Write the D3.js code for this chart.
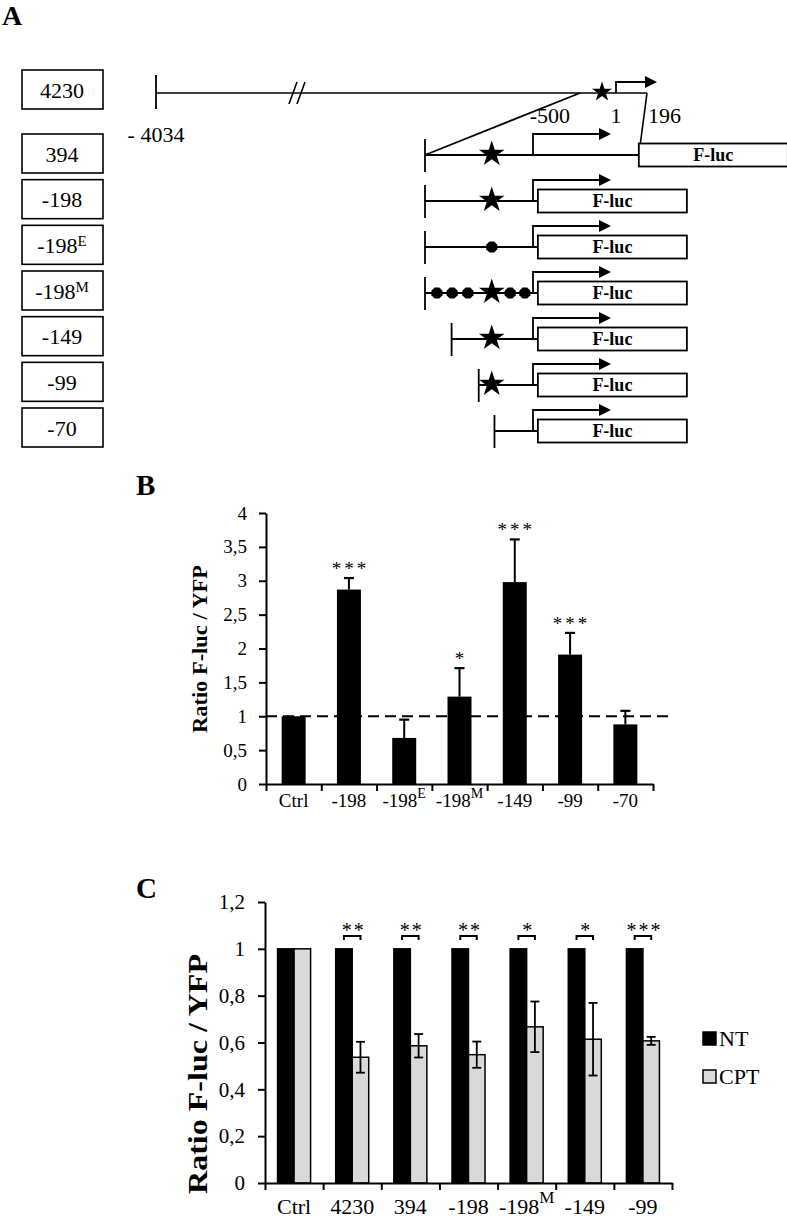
<!DOCTYPE html>
<html><head><meta charset="utf-8">
<script src="https://cdn.jsdelivr.net/npm/d3@7"></script>
<style>
body{margin:0;background:#fff}
svg{display:block}
text{font-family:"Liberation Serif","Times New Roman",Times,"Nimbus Roman","Tinos","DejaVu Serif",serif;fill:#000}
</style>
</head><body>
<svg id="fig" width="787" height="1218"></svg>
<script>
// ---------------- Panel A data ----------------
const constructLabels = ["4230","394","-198","-198","-198","-149","-99","-70"];
const constructSup    = ["","","","E","M","","",""];
const constructStart  = [-4034,-198,-198,-198,-198,-149,-99,-70];
const lucStart        = [null,196,10,10,10,10,10,10];
const siteType        = ["star","star","star","mut","star","star","star","none"];
const sitePos         = -75;
const extraMutSites   = [-176,-148,-119,-41,-14];   // extra mutated sites in -198M
const longCoordLabels = [-4034,-500,1,196];

// ---------------- Panel B data ----------------
const bCategories = ["Ctrl","-198","-198","-198","-149","-99","-70"];
const bSup        = ["","","E","M","","",""];
const bValues     = [1.0,2.87,0.68,1.29,2.98,1.91,0.88];
const bErrors     = [0,0.17,0.27,0.42,0.63,0.32,0.20];
const bSignif     = ["","***","","*","***","***",""];
const bTicks      = [0,0.5,1,1.5,2,2.5,3,3.5,4];

// ---------------- Panel C data ----------------
const cCategories = ["Ctrl","4230","394","-198","-198","-149","-99"];
const cSup        = ["","","","","M","",""];
const ntValues    = [1,1,1,1,1,1,1];
const cptValues   = [1.0,0.537,0.586,0.548,0.667,0.614,0.607];
const cptErrors   = [0,0.066,0.05,0.056,0.108,0.155,0.017];
const cSignif     = ["","**","**","**","*","*","***"];
const cTicks      = [0,0.2,0.4,0.6,0.8,1,1.2];
const seriesNames = ["NT","CPT"];
const seriesColors= ["#000000","#d9d9d9"];

const svg = d3.select("#fig");
const fmt = d => String(d).replace(".", ",");

// ======================= PANEL A =======================
const A = svg.append("g");
A.append("text").attr("x",2).attr("y",25).attr("font-size",28).attr("font-weight","bold").text("A");

const xA = d3.scaleLinear().domain([-198,1]).range([425,533]);
const xLong = d3.scaleLinear().domain([-4034,-500,-75,1,196]).range([156,580,602,616,647]);
const rowY = i => i === 0 ? 93 : d3.scaleLinear().domain([1,7]).range([155,431])(i);
const boxY = i => i === 0 ? 89.5 : d3.scaleLinear().domain([1,7]).range([153.5,427.5])(i);

constructLabels.forEach((lab,i)=>{
  const cy = boxY(i);
  A.append("rect").attr("x",22).attr("y",cy-19.5).attr("width",81).attr("height",39)
    .attr("fill","#fff").attr("stroke","#000").attr("stroke-width",1.6);
  const t = A.append("text").attr("x",62).attr("y",cy+8).attr("text-anchor","middle").attr("font-size",22);
  t.append("tspan").text(lab);
  if (constructSup[i]) t.append("tspan").attr("dy",-7).attr("font-size",15).text(constructSup[i]);
});

function arrow(g, x, y, h, len){
  g.append("path").attr("d",`M${x},${y}V${y-h}H${x+len-12}`).attr("fill","none").attr("stroke","#000").attr("stroke-width",1.8);
  g.append("path").attr("d",`M${x+len},${y-h}L${x+len-12},${y-h-6}L${x+len-12},${y-h+6}Z`).attr("fill","#000");
}
const star = r => d3.symbol().type(d3.symbolStar).size(r*r/0.8908130915292852)();
function hexPath(cx,cy,r){
  const pts = d3.range(8).map(k=>{const a=Math.PI/8+k*Math.PI/4;return [cx+r*Math.cos(a),cy+r*Math.sin(a)];});
  return "M"+pts.map(p=>p.join(",")).join("L")+"Z";
}

// Row 0: full 4230 promoter
{
  const y = rowY(0);
  A.append("line").attr("x1",xLong(-4034)).attr("x2",xLong(-4034)).attr("y1",y-18).attr("y2",y+16).attr("stroke","#000").attr("stroke-width",1.8);
  A.append("line").attr("x1",xLong(-4034)).attr("x2",xLong(196)).attr("y1",y).attr("y2",y).attr("stroke","#000").attr("stroke-width",1.6);
  [289,297].forEach(bx=>A.append("line").attr("x1",bx).attr("y1",y+11).attr("x2",bx+8).attr("y2",y-11).attr("stroke","#000").attr("stroke-width",1.6));
  A.append("path").attr("d",star(10.5)).attr("transform",`translate(${xLong(sitePos)},${y-1})`).attr("fill","#000");
  arrow(A, xLong(1), y, 11, 41);
  A.append("line").attr("x1",xLong(-500)).attr("y1",y).attr("x2",xA(-198)).attr("y2",rowY(1)).attr("stroke","#000").attr("stroke-width",1.8);
  A.append("line").attr("x1",xLong(196)).attr("y1",y).attr("x2",xA(196)).attr("y2",rowY(1)).attr("stroke","#000").attr("stroke-width",1.6);
  A.append("text").attr("x",xLong(-4034)).attr("y",142).attr("text-anchor","middle").attr("font-size",22).text("- " + Math.abs(longCoordLabels[0]));
  A.append("text").attr("x",xLong(-500)-10).attr("y",123).attr("text-anchor","end").attr("font-size",22).text(String(longCoordLabels[1]));
  A.append("text").attr("x",xLong(1)).attr("y",123).attr("text-anchor","middle").attr("font-size",22).text(String(longCoordLabels[2]));
  A.append("text").attr("x",xLong(196)+1).attr("y",123).attr("text-anchor","start").attr("font-size",22).text(String(longCoordLabels[3]));
}

for (let i=1;i<constructLabels.length;i++){
  const y = rowY(i);
  const x0 = xA(constructStart[i]);
  const xb = xA(lucStart[i]);
  A.append("line").attr("x1",x0).attr("x2",x0).attr("y1",y-16).attr("y2",y+17).attr("stroke","#000").attr("stroke-width",1.8);
  A.append("line").attr("x1",x0).attr("x2",xb).attr("y1",y).attr("y2",y).attr("stroke","#000").attr("stroke-width",1.8);
  if (siteType[i]==="star") A.append("path").attr("d",star(13.5)).attr("transform",`translate(${xA(sitePos)},${y-1})`).attr("fill","#000");
  if (siteType[i]==="mut") A.append("path").attr("d",hexPath(xA(sitePos),y,6)).attr("fill","#000");
  if (constructSup[i]==="M") extraMutSites.forEach(p=>A.append("path").attr("d",hexPath(xA(p),y,6)).attr("fill","#000"));
  arrow(A, xA(1), y, 21, 78);
  A.append("rect").attr("x",xb).attr("y",y-11.5).attr("width",149).attr("height",23).attr("fill","#fff").attr("stroke","#000").attr("stroke-width",1.8);
  A.append("text").attr("x",xb+74.5).attr("y",y+6).attr("text-anchor","middle").attr("font-size",18).attr("font-weight","bold").text("F-luc");
}

// ======================= PANEL B =======================
const B = svg.append("g");
B.append("text").attr("x",136).attr("y",495).attr("font-size",29).attr("font-weight","bold").text("B");
const bX = d3.scaleBand().domain(d3.range(bCategories.length)).range([266,653]);
const bY = d3.scaleLinear().domain([0,4]).range([784,513]);
const bw = bX.bandwidth()*0.434;

B.selectAll("rect.bar").data(bValues).join("rect").attr("class","bar")
  .attr("x",(d,i)=>bX(i)+bX.bandwidth()/2-bw/2).attr("width",bw)
  .attr("y",d=>bY(d)).attr("height",d=>bY(0)-bY(d)).attr("fill","#000");
bValues.forEach((v,i)=>{
  if (!bErrors[i]) return;
  const cx = bX(i)+bX.bandwidth()/2;
  B.append("line").attr("x1",cx).attr("x2",cx).attr("y1",bY(v)).attr("y2",bY(v+bErrors[i])).attr("stroke","#000").attr("stroke-width",2);
  B.append("line").attr("x1",cx-5).attr("x2",cx+5).attr("y1",bY(v+bErrors[i])).attr("y2",bY(v+bErrors[i])).attr("stroke","#000").attr("stroke-width",2.2);
  if (bSignif[i]) B.append("text").attr("x",cx+1.5).attr("y",bY(v+bErrors[i])-3).attr("text-anchor","middle")
    .attr("font-size",19).attr("letter-spacing",3).text(bSignif[i]);
});
B.append("line").attr("x1",266).attr("x2",670).attr("y1",bY(1)).attr("y2",bY(1)).attr("stroke","#000").attr("stroke-width",2).attr("stroke-dasharray","11,6");

const bYAxis = B.append("g").attr("transform","translate(266,0)")
  .call(d3.axisLeft(bY).tickValues(bTicks).tickFormat(fmt).tickSize(7).tickPadding(12).tickSizeOuter(0));
const bXAxis = B.append("g").attr("transform",`translate(0,${bY(0)})`)
  .call(d3.axisBottom(d3.scaleLinear().domain([0,bCategories.length]).range([266,653])).ticks(bCategories.length).tickFormat("").tickSize(7).tickSizeOuter(0));
[bYAxis,bXAxis].forEach(g=>{g.attr("font-family",null); g.selectAll("path,line").attr("stroke-width",2); g.selectAll("text").attr("font-size",19);});

bCategories.forEach((c,i)=>{
  const t = B.append("text").attr("x",bX(i)+bX.bandwidth()/2).attr("y",807).attr("text-anchor","middle").attr("font-size",19);
  t.append("tspan").text(c);
  if (bSup[i]) t.append("tspan").attr("dy",-9).attr("font-size",14).text(bSup[i]);
});
B.append("text").attr("transform","translate(207,649) rotate(-90)").attr("text-anchor","middle")
  .attr("font-size",22).attr("font-weight","bold")
  .attr("textLength",168).attr("lengthAdjust","spacingAndGlyphs").text("Ratio F-luc / YFP");

// ======================= PANEL C =======================
const C = svg.append("g");
C.append("text").attr("x",136).attr("y",898).attr("font-size",29).attr("font-weight","bold").text("C");
const cX = d3.scaleBand().domain(d3.range(cCategories.length)).range([265,672]);
const cY = d3.scaleLinear().domain([0,1.2]).range([1183,902]);
const cbw = cX.bandwidth()*0.284;
const cSub = d3.scaleBand().domain(seriesNames).range([-cbw, cbw]);

const cSeries = [ntValues, cptValues];
cSeries.forEach((vals,s)=>{
  C.selectAll("rect.s"+s).data(vals).join("rect").attr("class","s"+s)
    .attr("x",(d,i)=>cX(i)+cX.bandwidth()/2+cSub(seriesNames[s])).attr("width",cSub.bandwidth())
    .attr("y",d=>cY(d)).attr("height",d=>cY(0)-cY(d))
    .attr("fill",seriesColors[s]).attr("stroke","#000").attr("stroke-width",1.5);
});
cptValues.forEach((v,i)=>{
  const cx = cX(i)+cX.bandwidth()/2;
  const px = cx + cSub("CPT") + cSub.bandwidth()/2;
  if (cptErrors[i]){
    const e = cptErrors[i];
    C.append("line").attr("x1",px).attr("x2",px).attr("y1",cY(v-e)).attr("y2",cY(v+e)).attr("stroke","#000").attr("stroke-width",1.8);
    [v-e,v+e].forEach(yy=>C.append("line").attr("x1",px-4.5).attr("x2",px+4.5).attr("y1",cY(yy)).attr("y2",cY(yy)).attr("stroke","#000").attr("stroke-width",1.8));
  }
  if (cSignif[i]){
    const nx = cx + cSub("NT") + cSub.bandwidth()/2;
    const by = cY(1.055);
    C.append("path").attr("d",`M${nx},${by+4}V${by}H${px}V${by+4}`).attr("fill","none").attr("stroke","#000").attr("stroke-width",2);
    C.append("text").attr("x",(nx+px)/2+1.5).attr("y",by+1).attr("text-anchor","middle").attr("font-size",20).attr("letter-spacing",2).text(cSignif[i]);
  }
});

const cYAxis = C.append("g").attr("transform","translate(265,0)")
  .call(d3.axisLeft(cY).tickValues(cTicks).tickFormat(fmt).tickSize(7).tickPadding(13).tickSizeOuter(0));
const cXAxis = C.append("g").attr("transform",`translate(0,${cY(0)})`)
  .call(d3.axisBottom(d3.scaleLinear().domain([0,cCategories.length]).range([265,672])).ticks(cCategories.length).tickFormat("").tickSize(7).tickSizeOuter(0));
[cYAxis,cXAxis].forEach(g=>{g.attr("font-family",null); g.selectAll("path,line").attr("stroke-width",2); g.selectAll("text").attr("font-size",21);});

cCategories.forEach((c,i)=>{
  const t = C.append("text").attr("x",cX(i)+cX.bandwidth()/2).attr("y",1214).attr("text-anchor","middle").attr("font-size",22);
  t.append("tspan").text(c);
  if (cSup[i]) t.append("tspan").attr("dy",-11).attr("font-size",17).text(cSup[i]);
});
C.append("text").attr("transform","translate(207,1074) rotate(-90)").attr("text-anchor","middle")
  .attr("font-size",28).attr("font-weight","bold")
  .attr("textLength",240).attr("lengthAdjust","spacingAndGlyphs").text("Ratio F-luc / YFP");

seriesNames.forEach((n,s)=>{
  const ly = [1032,1070][s];
  C.append("rect").attr("x",703).attr("y",ly).attr("width",13).attr("height",13)
    .attr("fill",seriesColors[s]).attr("stroke","#000").attr("stroke-width",1.5);
  C.append("text").attr("x",719).attr("y",ly+14).attr("font-size",22).text(n);
});
</script>
</body></html>
